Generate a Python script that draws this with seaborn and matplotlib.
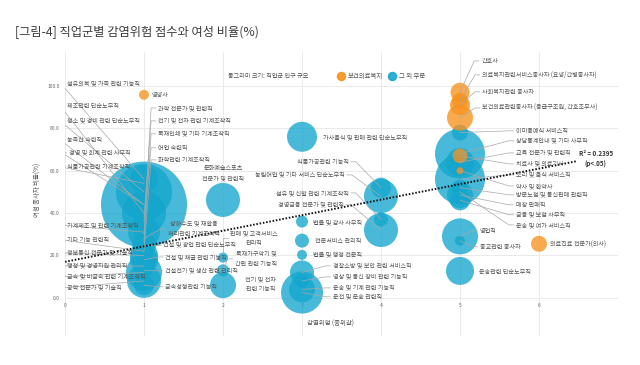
import pandas as pd
import matplotlib.pyplot as plt
import seaborn as sns

# 데이터: 직업군, 감염위험(중위값), 여성 종사자 비율(%), 인구 규모(상대값), 부문
jobs = [
    '섬유의복 및 가죽 관련 기능직', '제조관련 단순노무직', '청소 및 경비 관련 단순노무직',
    '농축산 숙련직', '경영 및 회계 관련 사무직', '식품가공관련 기계조작직',
    '과학 전문가 및 관련직', '전기 및 전자 관련 기계조작직', '목재인쇄 및 기타 기계조작직',
    '어업 숙련직', '화학관련 기계조작직', '기계제조 및 관련 기계조작직', '기타 기능 관련직',
    '정보통신 전문가 및 기술직', '행정 및 경영지원 관리직', '금속 및 비금속 관련 기계조작직',
    '공학 전문가 및 기술직', '상하수도 및 재활용\n처리관련 기계조작직', '건설 및 광업 관련 단순노무직',
    '건설 및 채굴 관련 기능직', '건설전기 및 생산 관련 관리직', '금속성형관련 기능직', '영양사',
    '문화예술스포츠\n전문가 및 관련직', '판매 및 고객서비스\n관리직', '목재가구악기 및\n간판 관련 기능직',
    '전기 및 전자\n관련 기능직',
    '가사음식 및 판매 관련 단순노무직', '법률 및 감사 사무직', '전문서비스 관리직', '법률 및 행정 전문직',
    '경찰소방 및 보안 관련 서비스직', '영상 및 통신 장비 관련 기능직', '운송 및 기계 관련 기능직',
    '운전 및 운송 관련직',
    '식품가공관련 기능직', '농림어업 및 기타 서비스 단순노무직', '섬유 및 신발 관련 기계조작직',
    '경영금융 전문가 및 관련직',
    '간호사', '의료복지관련서비스종사자 (요양/간병종사자)', '사회복지관련 종사자',
    '보건의료관련종사자 (응급구조원, 간호조무사)', '이미용예식 서비스직', '상담통계안내 및 기타 사무직',
    '교육 전문가 및 관련직', '치료사 및 의료기사', '조리 및 음식 서비스직', '약사 및 한약사',
    '방문노점 및 통신판매 관련직', '매장 판매직', '금융 및 보험 사무직', '운송 및 여가 서비스직',
    '영업직', '종교관련 종사자', '운송관련 단순노무직',
    '의료진료 전문가(의사)',
]
risk = [1] * 23 + [2] * 4 + [3] * 8 + [4] * 4 + [5] * 17 + [6]
female = [
    56, 40, 50, 44, 44, 54, 30, 38, 26, 36, 22, 31, 22, 20, 15, 12, 8, 28, 25, 18, 13, 6, 95.8,
    46.2, 19, 13, 6,
    76, 36, 27, 20.3, 12, 8, 4, 2.5,
    52, 48, 37, 32,
    97, 93, 91, 85, 78, 68, 64, 67, 56, 60, 52, 48.5, 46, 50, 29, 27, 12.7,
    25.5,
]
pop = [
    196, 484, 784, 64, 1849, 100, 49, 100, 49, 16, 81, 256, 64, 196, 100, 324, 289, 36, 144, 196, 64, 100, 25,
    289, 25, 36, 169,
    225, 36, 49, 25, 144, 49, 169, 441,
    100, 289, 49, 289,
    90, 64, 100, 169, 64, 625, 196, 53, 625, 12, 64, 169, 100, 36, 324, 25, 196,
    64,
]
health = {'영양사', '간호사', '의료복지관련서비스종사자 (요양/간병종사자)', '사회복지관련 종사자',
          '보건의료관련종사자 (응급구조원, 간호조무사)', '치료사 및 의료기사', '약사 및 한약사',
          '의료진료 전문가(의사)'}
sector = ['보건의료복지' if j in health else '그 외 부문' for j in jobs]

# 추세선
trend_x = [0, 6.48]
trend_y = [17.0, 64.5]

# 라벨 배치: (x, y, 정렬, 지시선 여부)
label_pos = {
    '섬유의복 및 가죽 관련 기능직': (0.03, 101.4, 'left', True),
    '제조관련 단순노무직': (0.03, 90.6, 'left', True),
    '청소 및 경비 관련 단순노무직': (0.03, 83.5, 'left', True),
    '농축산 숙련직': (0.03, 74.5, 'left', True),
    '경영 및 회계 관련 사무직': (0.05, 68.4, 'left', True),
    '식품가공관련 기계조작직': (0.03, 61.8, 'left', True),
    '과학 전문가 및 관련직': (1.18, 89.6, 'left', True),
    '전기 및 전자 관련 기계조작직': (1.18, 83.5, 'left', True),
    '목재인쇄 및 기타 기계조작직': (1.18, 77.4, 'left', True),
    '어업 숙련직': (1.18, 70.8, 'left', True),
    '화학관련 기계조작직': (1.18, 65.1, 'left', True),
    '기계제조 및 관련 기계조작직': (0.03, 34.4, 'left', True),
    '기타 기능 관련직': (0.03, 27.4, 'left', True),
    '정보통신 전문가 및 기술직': (0.03, 21.2, 'left', True),
    '행정 및 경영지원 관리직': (0.03, 15.1, 'left', True),
    '금속 및 비금속 관련 기계조작직': (0.03, 9.9, 'left', True),
    '공학 전문가 및 기술직': (0.03, 4.7, 'left', True),
    '상하수도 및 재활용\n처리관련 기계조작직': (1.30, 32.5, 'left', True),
    '건설 및 광업 관련 단순노무직': (1.24, 25.0, 'left', True),
    '건설 및 채굴 관련 기능직': (1.27, 19.3, 'left', True),
    '건설전기 및 생산 관련 관리직': (1.27, 12.7, 'left', True),
    '금속성형관련 기능직': (1.27, 5.2, 'left', True),
    '영양사': (1.10, 95.8, 'left', False),
    '문화예술스포츠\n전문가 및 관련직': (2.0, 59.0, 'center', False),
    '판매 및 고객서비스\n관리직': (2.09, 28.1, 'left', True),
    '목재가구악기 및\n간판 관련 기능직': (2.15, 18.4, 'left', True),
    '전기 및 전자\n관련 기능직': (2.28, 6.4, 'left', False),
    '가사음식 및 판매 관련 단순노무직': (3.27, 75.9, 'left', False),
    '법률 및 감사 사무직': (3.14, 35.8, 'left', False),
    '전문서비스 관리직': (3.16, 26.9, 'left', False),
    '법률 및 행정 전문직': (3.14, 20.3, 'left', False),
    '경찰소방 및 보안 관련 서비스직': (3.39, 15.1, 'left', True),
    '영상 및 통신 장비 관련 기능직': (3.39, 9.9, 'left', True),
    '운송 및 기계 관련 기능직': (3.39, 4.7, 'left', True),
    '운전 및 운송 관련직': (3.39, 0.5, 'left', True),
    '식품가공관련 기능직': (3.59, 64.2, 'right', True),
    '농림어업 및 기타 서비스 단순노무직': (3.54, 58.0, 'right', True),
    '섬유 및 신발 관련 기계조작직': (3.59, 49.5, 'right', True),
    '경영금융 전문가 및 관련직': (3.53, 43.9, 'right', True),
    '간호사': (5.27, 111.8, 'left', True),
    '의료복지관련서비스종사자 (요양/간병종사자)': (5.28, 105.2, 'left', True),
    '사회복지관련 종사자': (5.28, 97.2, 'left', True),
    '보건의료관련종사자 (응급구조원, 간호조무사)': (5.28, 89.6, 'left', True),
    '이미용예식 서비스직': (5.71, 78.8, 'left', True),
    '상담통계안내 및 기타 사무직': (5.71, 74.1, 'left', True),
    '교육 전문가 및 관련직': (5.71, 68.4, 'left', True),
    '치료사 및 의료기사': (5.71, 63.2, 'left', True),
    '조리 및 음식 서비스직': (5.71, 58.0, 'left', True),
    '약사 및 한약사': (5.71, 52.8, 'left', True),
    '방문노점 및 통신판매 관련직': (5.71, 48.6, 'left', True),
    '매장 판매직': (5.71, 43.9, 'left', True),
    '금융 및 보험 사무직': (5.71, 39.2, 'left', True),
    '운송 및 여가 서비스직': (5.71, 34.4, 'left', True),
    '영업직': (5.25, 31.6, 'left', True),
    '종교관련 종사자': (5.25, 24.1, 'left', True),
    '운송관련 단순노무직': (5.24, 12.3, 'left', False),
    '의료진료 전문가(의사)': (6.14, 25.0, 'left', False),
}

df = pd.DataFrame({'직업': jobs, '감염위험': risk, '여성비율': female, '인구': pop, '부문': sector})
df['order'] = (df['부문'] == '보건의료복지').astype(int)
df = df.sort_values(['order', '인구'], ascending=[True, False])

sns.set_style('white')
plt.rcParams['font.family'] = ['Noto Sans CJK KR', 'DejaVu Sans']

colors = {'보건의료복지': '#F7931E', '그 외 부문': '#14A6CD'}
txt_color = '#555555'
fs = 4.4

fig = plt.figure(figsize=(6.4, 3.65), dpi=100)
ax = fig.add_axes([65 / 640, 29 / 365, 553 / 640, 284 / 365])

# 동그라미 면적 = 인구 규모
px2 = 2.0736  # (2r px -> pt)^2
sns.scatterplot(data=df, x='감염위험', y='여성비율', hue='부문', palette=colors,
                size='인구', sizes=(0, px2 * 2000), size_norm=(0, 2000),
                alpha=0.78, linewidth=0, edgecolor='none', legend=False, ax=ax, zorder=2)

# 지시선과 라벨
for _, row in df.iterrows():
    lx, ly, ha, leader = label_pos[row['직업']]
    ax.text(lx, ly, row['직업'], ha=ha, va='center', ma='center', fontsize=fs,
            color=txt_color, zorder=5, linespacing=1.4)
    if leader:
        d = 1 if ha == 'right' else -1
        ax.plot([row['감염위험'], lx + d * 0.09, lx + d * 0.03], [row['여성비율'], ly, ly],
                color='#A8A8A8', lw=0.5, zorder=3)

# 추세선
sns.lineplot(x=trend_x, y=trend_y, ax=ax, color='#111111', lw=1.4,
             linestyle=(0, (0.8, 0.9)), zorder=4)
ax.text(6.72, 65.6, 'R² = 0.2395\n(p<.05)', ha='center', va='center', fontsize=4.5,
        fontweight='bold', color='#333333', linespacing=1.6, zorder=5)

ax.set_xlim(0, 7)
ax.set_ylim(-18, 116)
ax.set_xticks(range(0, 7))
ax.set_yticks(range(0, 101, 20))
ax.set_yticklabels([f'{v:.1f}' for v in range(0, 101, 20)])
ax.grid(True, color='#E6E6E6', lw=0.6)
ax.set_axisbelow(True)
for s in ax.spines.values():
    s.set_visible(False)
ax.spines['bottom'].set_position(('data', 0))
ax.tick_params(length=0, labelsize=3.6, labelcolor='#666666', pad=4)

ax.set_xlabel('감염위험 (중위값)', fontsize=4.6, color=txt_color, va='center')
ax.xaxis.set_label_coords(0.481, 0.042)
ax.set_ylabel('여성 종사자 비율(%)', fontsize=4.6, color=txt_color, va='center')
ax.yaxis.set_label_coords(-0.049, 0.514)

# 범례
ax.text(0.367, 0.915, '동그라미 크기: 직업군 인구 규모', transform=ax.transAxes,
        ha='center', va='center', fontsize=fs, color=txt_color)
handles = [plt.Line2D([], [], marker='o', ls='', color=colors[k], markersize=5.8, alpha=0.9)
           for k in ['보건의료복지', '그 외 부문']]
ax.legend(handles, ['보건의료복지', '그 외 부문'], loc='center left', bbox_to_anchor=(0.488, 0.915),
          ncol=2, frameon=False, fontsize=4.6, handletextpad=0.5, columnspacing=1.0,
          handlelength=1.0, borderpad=0, labelcolor=txt_color)

fig.text(15 / 640, 1 - 32 / 365, '[그림-4] 직업군별 감염위험 점수와 여성 비율(%)',
         fontsize=8.8, color='#3A3A3A', va='center', ha='left')

fig.savefig('out.png', dpi=100)
